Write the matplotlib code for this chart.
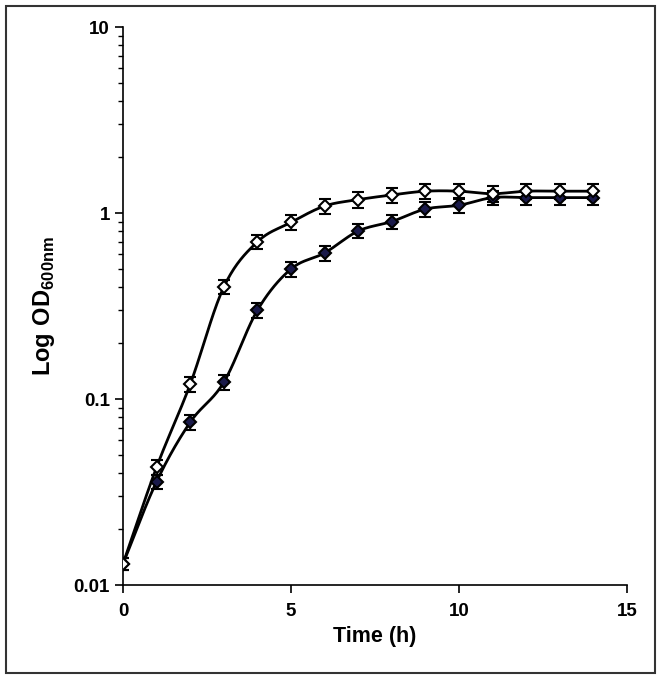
import numpy as np
import matplotlib
matplotlib.use("Agg")
import matplotlib.pyplot as plt
from matplotlib.patches import Rectangle
from matplotlib.ticker import LogLocator, FixedLocator, NullFormatter

time_h = [0, 1, 2, 3, 4, 5, 6, 7, 8, 9, 10, 11, 12, 13, 14]
od_open = [0.013, 0.043, 0.12, 0.40, 0.70, 0.89, 1.09, 1.18, 1.25, 1.31, 1.31, 1.27, 1.31, 1.31, 1.31]
err_open = [0.001, 0.004, 0.011, 0.035, 0.06, 0.08, 0.10, 0.11, 0.12, 0.12, 0.12, 0.12, 0.12, 0.12, 0.12]
od_filled = [0.013, 0.036, 0.075, 0.123, 0.30, 0.50, 0.61, 0.80, 0.90, 1.05, 1.10, 1.21, 1.21, 1.21, 1.21]
err_filled = [0.001, 0.003, 0.007, 0.011, 0.027, 0.045, 0.055, 0.07, 0.08, 0.10, 0.10, 0.11, 0.11, 0.11, 0.11]
x_ticks = [0, 5, 10, 15]
y_ticks = [0.01, 0.1, 1, 10]
y_ticklabels = ["0.01", "0.1", "1", "10"]


def smooth(x, y, n=20):
    x = np.asarray(x, float)
    ly = np.log10(np.asarray(y, float))
    px = np.concatenate([[2 * x[0] - x[1]], x, [2 * x[-1] - x[-2]]])
    py = np.concatenate([[2 * ly[0] - ly[1]], ly, [2 * ly[-1] - ly[-2]]])
    xs, ys = [], []
    for i in range(1, len(px) - 2):
        t = np.linspace(0, 1, n, endpoint=False)
        for arr, out in ((px, xs), (py, ys)):
            p0, p1, p2, p3 = arr[i - 1], arr[i], arr[i + 1], arr[i + 2]
            out.extend(0.5 * ((2 * p1) + (-p0 + p2) * t + (2 * p0 - 5 * p1 + 4 * p2 - p3) * t ** 2
                              + (-p0 + 3 * p1 - 3 * p2 + p3) * t ** 3))
    xs.append(x[-1]); ys.append(ly[-1])
    return np.array(xs), 10 ** np.array(ys)


plt.rcParams['font.family'] = ['Liberation Sans', 'DejaVu Sans']
plt.rcParams['mathtext.fontset'] = 'custom'
plt.rcParams['mathtext.rm'] = 'Liberation Sans'
plt.rcParams['mathtext.bf'] = 'Liberation Sans:bold'
fig = plt.figure(figsize=(6.62, 6.79), dpi=100)
fig.patches.append(Rectangle((6 / 662, 6 / 679), 649 / 662, 667 / 679, transform=fig.transFigure,
                             fill=False, edgecolor='#333333', linewidth=1.5))
ax = fig.add_axes([123 / 662, 94 / 679, 504 / 662, 558 / 679])

for ys, es, fc in ((od_filled, err_filled, '#1a1a4a'), (od_open, err_open, 'white')):
    sx, sy = smooth(time_h, ys)
    ax.plot(sx, sy, color='black', lw=2, zorder=2)
    ax.errorbar(time_h, ys, yerr=es, fmt='D', ms=6.5, mfc=fc, mec='black', mew=1.5,
                ecolor='black', elinewidth=1, capsize=4, capthick=1, zorder=3)

ax.set_yscale('log')
ax.set_xlim(0, 15)
ax.set_ylim(0.01, 10)
ax.xaxis.set_major_locator(FixedLocator(x_ticks))
ax.yaxis.set_major_locator(FixedLocator(y_ticks))
ax.set_yticklabels(y_ticklabels)
ax.yaxis.set_minor_locator(LogLocator(base=10, subs=np.arange(2, 10)))
ax.yaxis.set_minor_formatter(NullFormatter())
for s in ('top', 'right'):
    ax.spines[s].set_visible(False)
for s in ('left', 'bottom'):
    ax.spines[s].set_linewidth(1.2)
ax.tick_params(axis='both', which='major', direction='out', length=6, width=1.2, labelsize=13.5)
ax.tick_params(axis='y', which='minor', direction='out', length=3.5, width=1)
ax.tick_params(axis='x', pad=7)
for lab in ax.get_xticklabels() + ax.get_yticklabels():
    lab.set_fontweight('bold')
ax.set_xlabel('Time (h)', fontsize=15.5, fontweight='bold', labelpad=4)
ax.set_ylabel(r'$\mathbf{Log\ OD}_{\mathbf{600nm}}$', fontsize=17, labelpad=12)
fig.savefig('out.png', dpi=100)
